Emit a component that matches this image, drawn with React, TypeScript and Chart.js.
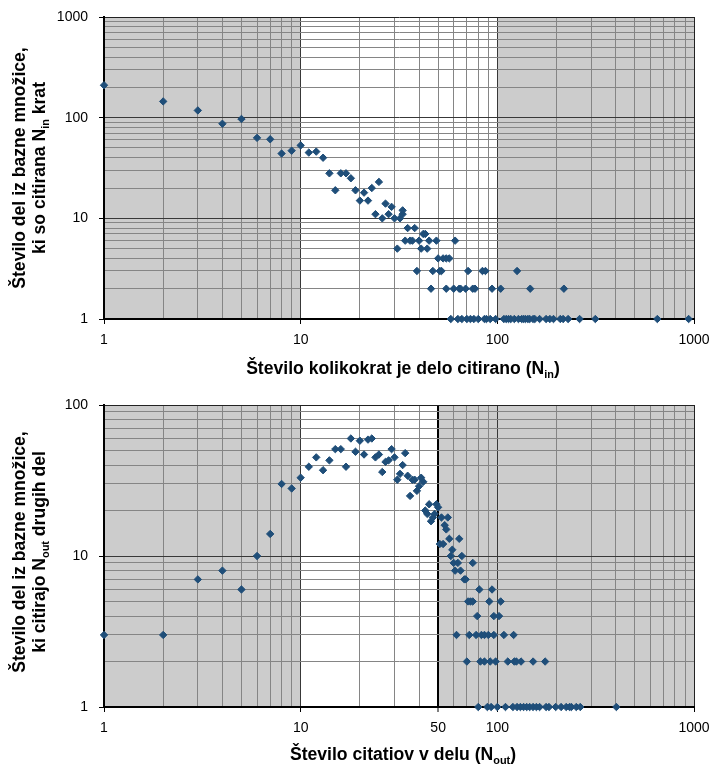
import React, { useEffect, useRef } from "react";
import { Chart, registerables } from "chart.js";

Chart.register(...registerables);

// ---------- Data ----------
// Top chart: number of citations received (N_in) vs number of works
const inX = [
  1, 2, 3, 4, 5, 6, 7, 8, 9, 10, 11, 12, 13, 14, 15, 16, 17, 18, 19, 20,
  21, 22, 23, 24, 25, 26, 27, 28, 29, 30, 31, 32, 33, 33, 34, 35, 36, 37, 38, 39,
  40, 41, 42, 43, 44, 45, 46, 47, 49, 50, 51, 52, 53, 55, 57, 60, 61, 64, 65, 69,
  71, 75, 77, 84, 87, 94, 104, 126, 147, 218, 55,
  58, 63, 66, 70, 73, 76, 80, 86, 88, 92, 98, 108, 111, 114, 117, 122, 128, 133,
  136, 139, 143, 146, 152, 155, 164, 177, 185, 193, 209, 216, 229, 262, 315, 651, 939,
];
const inY = [
  210, 145, 118, 87, 97, 63, 61, 44, 47, 53, 45, 46, 40, 28, 19, 28, 28, 25, 19, 15,
  18, 15, 20, 11, 23, 10, 14, 11, 13, 10, 5, 10, 11, 12, 6, 8, 6, 6, 8, 3,
  6, 5, 7, 7, 5, 6, 2, 3, 6, 4, 3, 3, 4, 4, 4, 2, 6, 2, 2, 2,
  3, 2, 2, 3, 3, 2, 2, 3, 2, 2, 2,
  1, 1, 1, 1, 1, 1, 1, 1, 1, 1, 1, 1, 1, 1, 1, 1, 1, 1,
  1, 1, 1, 1, 1, 1, 1, 1, 1, 1, 1, 1, 1, 1, 1, 1, 1,
];

// Bottom chart: number of citations in work (N_out) vs number of works
const outX = [
  1, 2, 3, 4, 5, 6, 7, 8, 9, 10, 11, 12, 13, 14, 15, 16, 17, 18, 19, 20,
  21, 22, 23, 24, 25, 26, 27, 28, 29, 30, 31, 32, 33, 34, 35, 36, 37, 38, 39, 40,
  41, 42, 43, 44, 45, 46, 47, 48, 49, 50, 51, 52, 53, 54, 55, 56, 57, 58, 59, 60,
  61, 62, 63, 64, 65, 66, 68, 69, 70, 71, 72, 73, 75, 75, 78, 79, 81, 82, 83, 86,
  86, 90, 91, 92, 94, 96, 96, 98, 102, 104, 108, 113, 121, 122, 125, 132, 152, 175,
  80, 89, 93, 100, 110, 120, 126, 131, 136, 141, 146, 152, 158, 164, 177, 183, 198,
  211, 224, 233, 238, 252, 264, 403,
];
const outY = [
  3, 3, 7, 8, 6, 10, 14, 30, 28, 33, 39, 45, 37, 43, 51, 51, 39, 60, 49, 58,
  47, 59, 60, 45, 47, 36, 42, 43, 51, 45, 32, 35, 40, 48, 34, 25, 32, 32, 27, 29,
  33, 31, 20, 19, 22, 17, 18, 19, 22, 21, 12, 18, 12, 16, 15, 18, 13, 10, 11, 9,
  8, 3, 9, 13, 8, 10, 7, 7, 2, 5, 3, 5, 5, 9, 3, 4, 6, 2, 3, 2,
  3, 3, 5, 2, 6, 3, 4, 2, 4, 5, 3, 2, 3, 2, 2, 2, 2, 2,
  1, 1, 1, 1, 1, 1, 1, 1, 1, 1, 1, 1, 1, 1, 1, 1, 1,
  1, 1, 1, 1, 1, 1, 1,
];

const decadeTicks1000 = [
  1, 2, 3, 4, 5, 6, 7, 8, 9, 10, 20, 30, 40, 50, 60, 70, 80, 90,
  100, 200, 300, 400, 500, 600, 700, 800, 900, 1000,
];
const decadeTicks100 = [1, 2, 3, 4, 5, 6, 7, 8, 9, 10, 20, 30, 40, 50, 60, 70, 80, 90, 100];

const topXLabels = [1, 10, 100, 1000];
const topYLabels = [1, 10, 100, 1000];
const botXLabels = [1, 10, 50, 100, 1000];
const botYLabels = [1, 10, 100];

type Seg = { t: string; sub?: boolean };

const FONT = '"Liberation Sans", Arial, Helvetica, sans-serif';
const MARKER = "#1f4e79";
const SHADE = "#cccccc";
const MINOR = "#858585";
const MAJOR = "#383838";

function drawSegs(ctx: CanvasRenderingContext2D, segs: Seg[], size: number, cx: number, baseline: number) {
  const main = `bold ${size}px ${FONT}`;
  const subSize = size * 0.62;
  const sub = `bold ${subSize}px ${FONT}`;
  let total = 0;
  const widths = segs.map((s) => {
    ctx.font = s.sub ? sub : main;
    const w = ctx.measureText(s.t).width;
    total += w;
    return w;
  });
  let x = cx - total / 2;
  ctx.textAlign = "left";
  ctx.textBaseline = "alphabetic";
  ctx.fillStyle = "#000";
  segs.forEach((s, i) => {
    ctx.font = s.sub ? sub : main;
    ctx.fillText(s.t, x, baseline + (s.sub ? size * 0.22 : 0));
    x += widths[i];
  });
}

interface Cfg {
  xs: number[];
  ys: number[];
  yTicks: number[];
  yMax: number;
  xLabels: number[];
  yLabels: number[];
  strongX: number[];
  shade: [number, number][];
  padTop: number;
  xAxisH: number;
  xTitle: Seg[];
  xTitleBase: number;
  yTitle1: Seg[];
  yTitle2: Seg[];
  yTitleCenter: number;
}

function makeChart(canvas: HTMLCanvasElement, c: Cfg) {
  const bgPlugin = {
    id: "bgShade",
    beforeDraw(chart: any) {
      const { ctx, chartArea } = chart;
      const xs = chart.scales.x;
      ctx.save();
      ctx.fillStyle = "#ffffff";
      ctx.fillRect(0, 0, chart.width, chart.height);
      ctx.fillStyle = SHADE;
      c.shade.forEach(([a, b]) => {
        const x0 = xs.getPixelForValue(a);
        const x1 = xs.getPixelForValue(b);
        ctx.fillRect(x0, chartArea.top, x1 - x0, chartArea.bottom - chartArea.top);
      });
      ctx.restore();
    },
  };
  const titlePlugin = {
    id: "richTitles",
    afterDraw(chart: any) {
      const { ctx } = chart;
      ctx.save();
      drawSegs(ctx, c.xTitle, 17.6, 403, c.xTitleBase);
      ctx.translate(24.5, c.yTitleCenter);
      ctx.rotate(-Math.PI / 2);
      drawSegs(ctx, c.yTitle1, 17.6, 0, 0);
      drawSegs(ctx, c.yTitle2, 17.6, 0, 20.5);
      ctx.restore();
    },
  };

  const xMajor = [10, 100];
  const yMajor = [10, 100];

  return new Chart(canvas, {
    type: "scatter",
    data: {
      datasets: [
        {
          data: c.xs.map((x, i) => ({ x, y: c.ys[i] })),
          pointStyle: "rectRot",
          pointRadius: 3.7,
          pointHoverRadius: 3.7,
          backgroundColor: MARKER,
          borderColor: MARKER,
          borderWidth: 1,
          clip: false,
        } as any,
      ],
    },
    options: {
      animation: false,
      responsive: false,
      events: [],
      layout: { padding: { left: 0, right: 19, top: c.padTop, bottom: 0 } },
      plugins: { legend: { display: false }, tooltip: { enabled: false }, title: { display: false } },
      scales: {
        x: {
          type: "logarithmic",
          min: 1,
          max: 1000,
          afterBuildTicks: (s: any) => {
            s.ticks = decadeTicks1000.map((v) => ({ value: v }));
          },
          afterFit: (s: any) => {
            s.height = c.xAxisH;
            s.paddingLeft = 0;
            s.paddingRight = 0;
          },
          grid: {
            color: (ctx: any) => {
              const v = ctx.tick?.value;
              if (c.strongX.includes(v)) return "#000";
              if (v === 1000) return "#222";
              if (xMajor.includes(v)) return MAJOR;
              return MINOR;
            },
            lineWidth: (ctx: any) => (c.strongX.includes(ctx.tick?.value) ? 2 : 1),
            tickLength: 5,
            tickColor: (ctx: any) =>
              c.xLabels.includes(ctx.tick?.value) ? "#000" : "rgba(0,0,0,0)",
            tickWidth: 1,
          },
          border: { color: "#000", width: 2 },
          ticks: {
            autoSkip: false,
            maxRotation: 0,
            minRotation: 0,
            padding: 8,
            color: "#000",
            font: { family: FONT, size: 14 },
            callback: (v: any) => (c.xLabels.includes(Number(v)) ? String(v) : ""),
          },
        },
        y: {
          type: "logarithmic",
          min: 1,
          max: c.yMax,
          afterBuildTicks: (s: any) => {
            s.ticks = c.yTicks.map((v) => ({ value: v }));
          },
          afterFit: (s: any) => {
            s.width = 104;
            s.paddingTop = 0;
            s.paddingBottom = 0;
          },
          grid: {
            color: (ctx: any) => {
              const v = ctx.tick?.value;
              if (v === c.yMax) return "#222";
              if (yMajor.includes(v)) return MAJOR;
              return MINOR;
            },
            lineWidth: 1,
            tickLength: 5,
            tickColor: (ctx: any) =>
              c.yLabels.includes(ctx.tick?.value) ? "#000" : "rgba(0,0,0,0)",
            tickWidth: 1,
          },
          border: { color: "#000", width: 2 },
          ticks: {
            autoSkip: false,
            padding: 11,
            color: "#000",
            font: { family: FONT, size: 14 },
            callback: (v: any) => (c.yLabels.includes(Number(v)) ? String(v) : ""),
          },
        },
      },
    },
    plugins: [bgPlugin, titlePlugin],
  } as any);
}

export default function App() {
  const topRef = useRef<HTMLCanvasElement>(null);
  const botRef = useRef<HTMLCanvasElement>(null);

  useEffect(() => {
    const top = makeChart(topRef.current!, {
      xs: inX,
      ys: inY,
      yTicks: decadeTicks1000,
      yMax: 1000,
      xLabels: topXLabels,
      yLabels: topYLabels,
      strongX: [],
      shade: [
        [1, 10],
        [100, 1000],
      ],
      padTop: 17,
      xAxisH: 66,
      xTitle: [{ t: "Število kolikokrat je delo citirano (N" }, { t: "in", sub: true }, { t: ")" }],
      xTitleBase: 374,
      yTitle1: [{ t: "Število del iz bazne množice," }],
      yTitle2: [{ t: "ki so citirana N" }, { t: "in", sub: true }, { t: " krat" }],
      yTitleCenter: 168,
    });
    const bot = makeChart(botRef.current!, {
      xs: outX,
      ys: outY,
      yTicks: decadeTicks100,
      yMax: 100,
      xLabels: botXLabels,
      yLabels: botYLabels,
      strongX: [50],
      shade: [
        [1, 10],
        [50, 1000],
      ],
      padTop: 20,
      xAxisH: 62,
      xTitle: [{ t: "Število citatiov v delu (N" }, { t: "out", sub: true }, { t: ")" }],
      xTitleBase: 375,
      yTitle1: [{ t: "Število del iz bazne množice," }],
      yTitle2: [{ t: "ki citirajo N" }, { t: "out", sub: true }, { t: " drugih del" }],
      yTitleCenter: 167,
    });
    return () => {
      top.destroy();
      bot.destroy();
    };
  }, []);

  return (
    <div style={{ position: "absolute", left: 0, top: 0, width: 713, height: 769, background: "#fff" }}>
      <canvas ref={topRef} width={713} height={385} style={{ display: "block" }} />
      <canvas ref={botRef} width={713} height={384} style={{ display: "block" }} />
    </div>
  );
}
